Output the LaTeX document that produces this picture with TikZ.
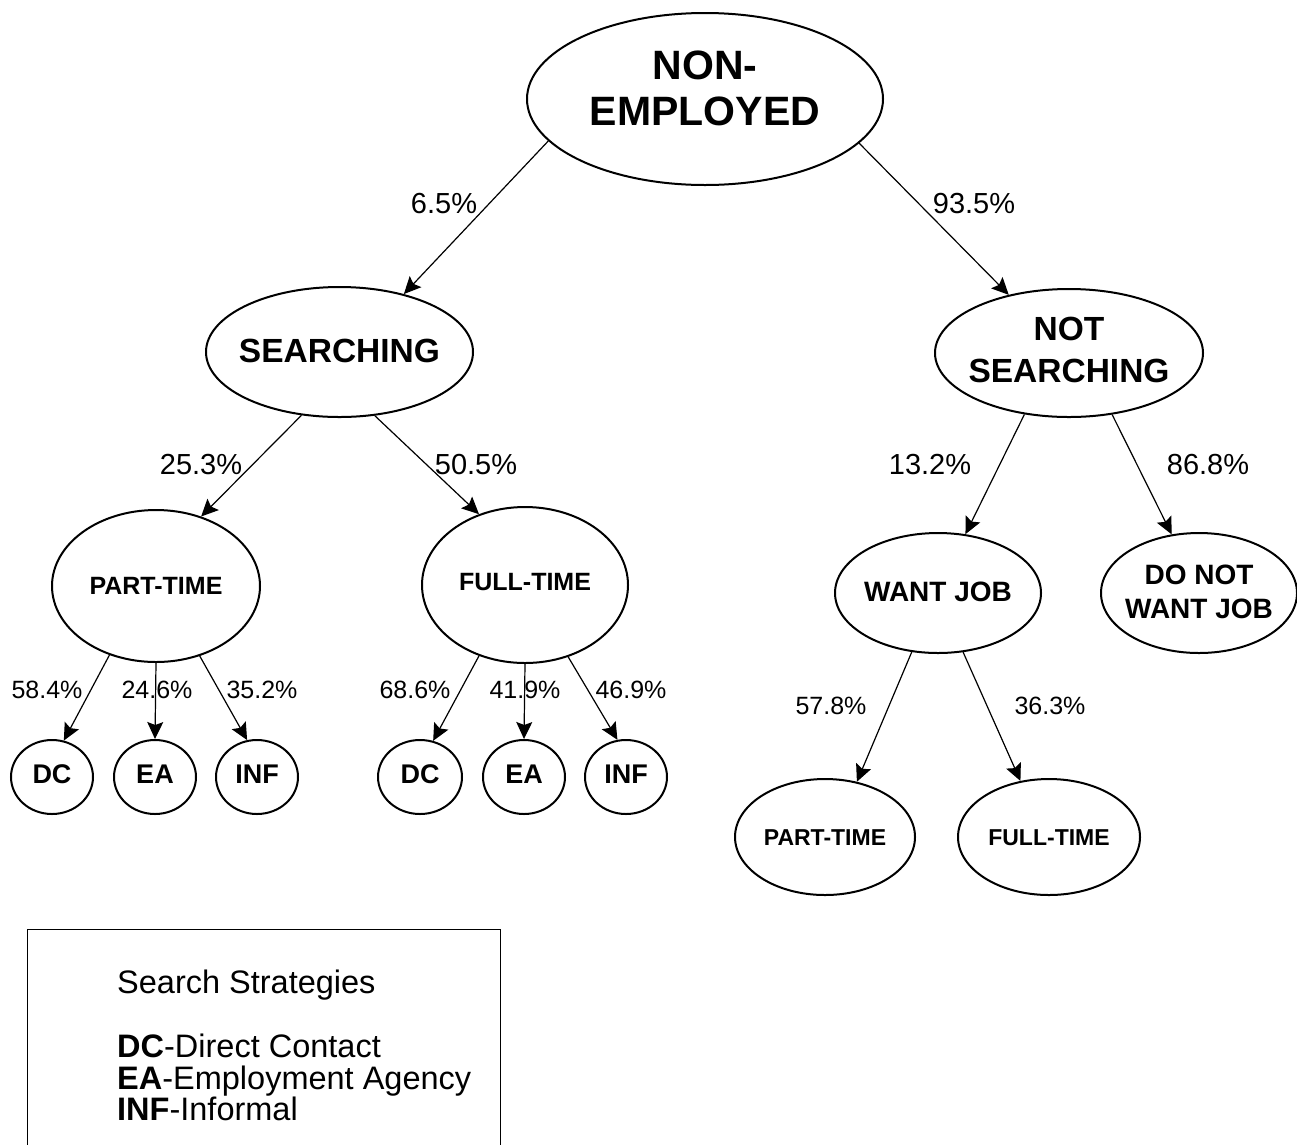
\documentclass[tikz,border=0pt]{standalone}
\usepackage{fontspec}
\setmainfont{Liberation Sans}
\usetikzlibrary{shapes.geometric,arrows.meta}
\newcommand{\ctr}[2][0pt]{\makebox[0pt]{\raisebox{#1}[\height][\depth]{\begin{tabular}{@{}c@{}}#2\end{tabular}}}}
\begin{document}
\begin{tikzpicture}[x=1pt,y=-1pt,
  ell/.style={draw, ellipse, line width=2pt, inner sep=0pt},
  arr/.style={-{Stealth[length=17pt,width=16pt,inset=3pt]}, line width=1.2pt},
  pct/.style={font=\fontsize{29}{32}\selectfont, inner sep=0pt},
  pcts/.style={font=\fontsize{25}{28}\selectfont, inner sep=0pt},
  leg/.style={font=\fontsize{32.5}{34}\selectfont, inner sep=0pt, anchor=base west}]
\useasboundingbox (0,0) rectangle (1297,1144);
% nodes
\node[ell, minimum width=356pt, minimum height=172pt, font=\bfseries\fontsize{41}{46}\selectfont] (non) at (705,99) {\ctr[6pt]{NON-\\EMPLOYED}};
\node[ell, minimum width=267pt, minimum height=130pt, font=\bfseries\fontsize{33.5}{36}\selectfont] (srch) at (339.5,352) {\ctr[-3pt]{SEARCHING}};
\node[ell, minimum width=268pt, minimum height=128pt, font=\bfseries\fontsize{33.5}{42}\selectfont] (nsrch) at (1069,353) {\ctr{NOT\\SEARCHING}};
\node[ell, minimum width=208pt, minimum height=152pt, font=\bfseries\fontsize{25}{28}\selectfont] (pt1) at (156,586) {\ctr[-3pt]{PART-TIME}};
\node[ell, minimum width=206pt, minimum height=156pt, font=\bfseries\fontsize{25}{28}\selectfont] (ft1) at (525,585) {\ctr{FULL-TIME}};
\node[ell, minimum width=82pt, minimum height=74pt, font=\bfseries\fontsize{27}{30}\selectfont] (dc1) at (52,777) {\ctr{DC}};
\node[ell, minimum width=82pt, minimum height=74pt, font=\bfseries\fontsize{27}{30}\selectfont] (ea1) at (155,777) {\ctr{EA}};
\node[ell, minimum width=82pt, minimum height=74pt, font=\bfseries\fontsize{27}{30}\selectfont] (inf1) at (257,777) {\ctr{INF}};
\node[ell, minimum width=84pt, minimum height=74pt, font=\bfseries\fontsize{27}{30}\selectfont] (dc2) at (420,777) {\ctr{DC}};
\node[ell, minimum width=82pt, minimum height=74pt, font=\bfseries\fontsize{27}{30}\selectfont] (ea2) at (524,777) {\ctr{EA}};
\node[ell, minimum width=82pt, minimum height=74pt, font=\bfseries\fontsize{27}{30}\selectfont] (inf2) at (626,777) {\ctr{INF}};
\node[ell, minimum width=206pt, minimum height=120pt, font=\bfseries\fontsize{28}{31}\selectfont] (want) at (938,593) {\ctr[-2pt]{WANT JOB}};
\node[ell, minimum width=196pt, minimum height=120pt, font=\bfseries\fontsize{28}{34}\selectfont] (dnw) at (1199,593) {\ctr[-2pt]{DO NOT\\WANT JOB}};
\node[ell, minimum width=180pt, minimum height=116pt, font=\bfseries\fontsize{23}{26}\selectfont] (pt2) at (825,837) {\ctr[-3pt]{PART-TIME}};
\node[ell, minimum width=182pt, minimum height=116pt, font=\bfseries\fontsize{23}{26}\selectfont] (ft2) at (1049,837) {\ctr[-3pt]{FULL-TIME}};
% connectors
\draw[arr] (non.195.8) -- (srch.42.5);
\draw[arr] (non.344.2) -- (nsrch.136.4);
\draw[arr] (srch.239.6) -- (pt1.57);
\draw[arr] (srch.299) -- (ft1.123.3);
\draw[arr] (nsrch.234.6) -- (want.65);
\draw[arr] (nsrch.305.3) -- (dnw.115.8);
\draw[arr] (pt1.236.7) -- (dc1.72);
\draw[arr] (pt1.270) -- (ea1.90);
\draw[arr] (pt1.302.2) -- (inf1.105);
\draw[arr] (ft1.237.4) -- (dc2.70.6);
\draw[arr] (ft1.270) -- (ea2.90);
\draw[arr] (ft1.301.3) -- (inf2.103.7);
\draw[arr] (want.246.2) -- (pt2.60);
\draw[arr] (want.293) -- (ft2.117);
% labels
\node[pct] (l65) at (444,204) {6.5\%};
\node[pct] (l935) at (974,204) {93.5\%};
\node[pct] (l253) at (201,465) {25.3\%};
\node[pct] (l505) at (476,465) {50.5\%};
\node[pct] (l132) at (930,465) {13.2\%};
\node[pct] (l868) at (1208,465) {86.8\%};
\node[pcts] (l584) at (47,690) {58.4\%};
\node[pcts] (l246) at (157,690) {24.6\%};
\node[pcts] (l352) at (262,690) {35.2\%};
\node[pcts] (l686) at (415,690) {68.6\%};
\node[pcts] (l419) at (525,690) {41.9\%};
\node[pcts] (l469) at (631,690) {46.9\%};
\node[pcts] (l578) at (831,706) {57.8\%};
\node[pcts] (l363) at (1050,706) {36.3\%};
% legend
\draw[line width=1pt] (27,1150) -- (27,929) -- (500,929) -- (500,1150);
\node[leg] (lg0) at (117,993) {Search Strategies};
\node[leg] (lg1) at (117,1057) {\textbf{DC}-Direct Contact};
\node[leg] (lg2) at (117,1089) {\textbf{EA}-Employment Agency};
\node[leg] (lg3) at (117,1120) {\textbf{INF}-Informal};
\end{tikzpicture}
\end{document}
